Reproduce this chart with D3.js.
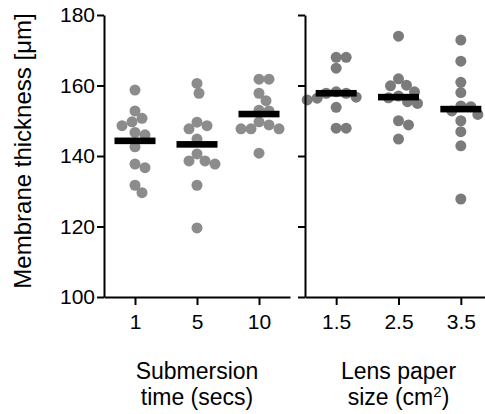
<!DOCTYPE html>
<html>
<head>
<meta charset="utf-8" />
<script src="https://d3js.org/d3.v7.min.js"></script>
<style>
  body { margin: 0; background: #fff; }
  text { font-family: "Liberation Sans", Arial, sans-serif; fill: #000; }
</style>
</head>
<body>
<svg id="chart" width="485" height="414"></svg>
<script>
// categories
var timeCats = ["1", "5", "10"];
var sizeCats = ["1.5", "2.5", "3.5"];

// membrane thickness (um) per group
var time1 = [158.7, 152.8, 150.7, 149.7, 148.6, 146.7, 146, 142.6, 137.7, 136.7, 131.7, 129.6];
var time5 = [160.6, 157.8, 149.6, 148.6, 147.7, 144.8, 140.6, 138.6, 138.6, 137.7, 131.7, 119.6];
var time10 = [161.8, 161.8, 157.8, 155.7, 153, 152.8, 149.7, 148.8, 147.7, 147.7, 147.7, 140.8];
var size15 = [168, 168, 164.9, 158.2, 157.8, 157.8, 156.7, 156.4, 155.9, 153.8, 147.9, 147.9];
var size25 = [174, 161.9, 160.1, 159.9, 158.2, 157, 156.5, 155.4, 154.9, 150, 148.8, 144.8];
var size35 = [172.9, 166.9, 160.9, 158, 154.2, 154, 152.8, 151.8, 150, 146.9, 142.9, 127.8];

// group means (black bars)
var timeMeans = [144.3, 143.3, 151.9];
var sizeMeans = [157.8, 156.7, 153.3];

var yTicks = [100, 120, 140, 160, 180];

var svg = d3.select("#chart");

var y = d3.scaleLinear().domain([100, 180]).range([297, 15]);

var r = 5.5;

// simple beeswarm so dots don't pile on each other
function swarm(vals, cx) {
  var placed = [];
  vals.forEach(function(v) {
    var py = y(v);
    var px = cx;
    for (var k = 0; k < 400; k++) {
      var cand = cx + (k % 2 ? 1 : -1) * Math.ceil(k / 2);
      var ok = placed.every(function(p) {
        var dx = p.x - cand, dy = p.y - py;
        return dx * dx + dy * dy >= 10 * 10;
      });
      if (ok) { px = cand; break; }
    }
    placed.push({x: px, y: py, v: v});
  });
  return placed;
}

function panel(cats, groups, means, x0, x1, color, showLabels) {
  var x = d3.scalePoint().domain(cats).range([x0, x1]).padding(0.5);
  var g = svg.append("g");

  groups.forEach(function(vals, i) {
    var pts = swarm(vals, x(cats[i]));
    g.selectAll(null).data(pts).enter().append("circle")
      .attr("cx", function(d) { return d.x; })
      .attr("cy", function(d) { return d.y; })
      .attr("r", r)
      .attr("fill", color);
  });

  g.selectAll(".mean").data(means).enter().append("rect")
    .attr("class", "mean")
    .attr("x", function(d, i) { return x(cats[i]) - 20.5; })
    .attr("y", function(d) { return y(d) - 3.3; })
    .attr("width", 41)
    .attr("height", 6.6)
    .attr("fill", "#000");

  var yAxis = d3.axisLeft(y).tickValues(yTicks).tickSize(7).tickSizeOuter(0).tickPadding(2);
  if (!showLabels) yAxis.tickFormat("");
  var ya = svg.append("g").attr("transform", "translate(" + x0 + ",0)").call(yAxis);
  ya.selectAll("text").style("font-size", "21px").attr("font-family", null);

  var xa = svg.append("g").attr("transform", "translate(0," + y(100) + ")")
    .call(d3.axisBottom(x).tickSize(8).tickSizeOuter(0).tickPadding(9));
  xa.selectAll("text").style("font-size", "21px").attr("font-family", null);

  [ya, xa].forEach(function(a) {
    a.selectAll("path, line").attr("stroke", "#000").attr("stroke-width", 2);
  });
  return x;
}

var xl = panel(timeCats, [time1, time5, time10], timeMeans, 104, 290, "#8c8c8c", true);
var xr = panel(sizeCats, [size15, size25, size35], sizeMeans, 305, 492, "#7b7b7b", false);

// axis titles
svg.append("text")
  .attr("transform", "translate(31,151) rotate(-90)")
  .attr("text-anchor", "middle")
  .style("font-size", "24px")
  .text("Membrane thickness [\u03bcm]");

var t1 = svg.append("text").attr("text-anchor", "middle").style("font-size", "23px");
t1.append("tspan").attr("x", xl(timeCats[1])).attr("y", 379).text("Submersion");
t1.append("tspan").attr("x", xl(timeCats[1])).attr("y", 405).text("time (secs)");

var t2 = svg.append("text").attr("text-anchor", "middle").style("font-size", "23px");
t2.append("tspan").attr("x", xr(sizeCats[1])).attr("y", 379).text("Lens paper");
var l2 = t2.append("tspan").attr("x", xr(sizeCats[1])).attr("y", 405);
l2.append("tspan").text("size (cm");
l2.append("tspan").attr("dy", -8).style("font-size", "15px").text("2");
l2.append("tspan").attr("dy", 8).text(")");
</script>
</body>
</html>
